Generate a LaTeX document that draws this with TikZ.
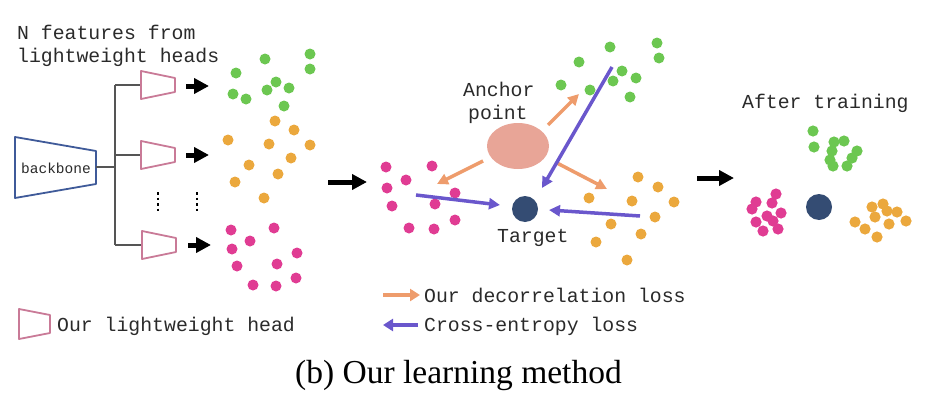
\documentclass[tikz,border=0pt]{standalone}
\usepackage{fontspec}
\setmainfont{Liberation Serif}
\setmonofont{Liberation Mono}
\usetikzlibrary{arrows.meta,shapes.geometric}
\definecolor{bbblue}{HTML}{3F5A99}
\definecolor{headpink}{HTML}{C97A97}
\definecolor{cgreen}{HTML}{6CC751}
\definecolor{corange}{HTML}{EBA83D}
\definecolor{cmag}{HTML}{E03C93}
\definecolor{anchorc}{HTML}{E8A597}
\definecolor{targetc}{HTML}{344C73}
\definecolor{decor}{HTML}{EE9C6C}
\definecolor{cel}{HTML}{6A57CC}
\definecolor{treec}{HTML}{555555}
\definecolor{textc}{HTML}{2A2A2A}
\begin{document}
\begin{tikzpicture}[x=1pt,y=-1pt,
  mono/.style={font=\fontsize{19.8}{23}\selectfont\ttfamily, text=textc, inner sep=0pt, anchor=base west},
  blackarrow/.style={line width=5pt, -{Triangle[length=15pt,width=15pt]}},
  decorarrow/.style={decor, line width=3.5pt, -{Triangle[length=11pt,width=11pt]}},
  cearrow/.style={cel, line width=3.5pt, -{Triangle[length=11pt,width=11pt]}},
  treeline/.style={treec, line width=1.6pt},
  headshape/.style={headpink, line width=1.8pt, line join=round},
  target/.style={circle, fill=targetc, inner sep=0pt, minimum size=26pt},
  pics/head/.style={code={\draw[headshape] (0,-14) -- (34,-7) -- (34,7) -- (0,14) -- cycle;}}
]
\useasboundingbox (0,0) rectangle (940,407);

% backbone
\draw[bbblue, line width=1.8pt, line join=round] (15,137) -- (96,151) -- (96,184) -- (15,198) -- cycle;
\node[font=\fontsize{14.5}{16}\selectfont\ttfamily, text=textc, inner sep=0pt, anchor=base] (bbtext) at (56,173) {backbone};
\coordinate (bbout) at (96,167);
\coordinate (split) at (115,167);
\coordinate (h1) at (141,85);
\coordinate (h2) at (141,155);
\coordinate (h3) at (142,245);
\draw[treeline] (bbout) -- (split);
\draw[treeline] (h1 -| split) -- (h3 -| split);
\draw[treeline] (h1 -| split) -- (h1);
\draw[treeline] (h2 -| split) -- (h2);
\draw[treeline] (h3 -| split) -- (h3);
\pic at (h1) {head};
\pic at (h2) {head};
\pic at (h3) {head};

% vertical dots
\draw[line width=2.8pt, dash pattern=on 2.8pt off 2.7pt] (158,192) -- (158,212);
\draw[line width=2.8pt, dash pattern=on 2.8pt off 2.7pt] (197,192) -- (197,212);

% black arrows
\coordinate (a1s) at (186,86); \coordinate (a1e) at (209,86);
\coordinate (a2s) at (186,155); \coordinate (a2e) at (209,155);
\coordinate (a3s) at (188,245); \coordinate (a3e) at (211,245);
\coordinate (a4s) at (328,182); \coordinate (a4e) at (367,182);
\coordinate (a5s) at (697,178); \coordinate (a5e) at (734,178);
\draw[blackarrow] (a1s) -- (a1e);
\draw[blackarrow] (a2s) -- (a2e);
\draw[blackarrow] (a3s) -- (a3e);
\draw[blackarrow] (a4s) -- (a4e);
\draw[blackarrow] (a5s) -- (a5e);

% dots, first stage
\foreach \x/\y in {236/73,265/59,310/54,310/69,233/94,246/99,267/90,276/82,289/88,284/106}
  \fill[cgreen] (\x,\y) circle (5.5pt);
\foreach \x/\y in {275/121,294/130,228/140,269/144,310/145,291/158,249/165,278/174,235/182,264/198}
  \fill[corange] (\x,\y) circle (5.5pt);
\foreach \x/\y in {231/230,274/228,250/241,232/249,297/253,237/266,277/264,296/278,253/285,276/286}
  \fill[cmag] (\x,\y) circle (5.5pt);

% dots, second stage
\foreach \x/\y in {610/47,657/43,659/58,579/62,622/71,636/78,613/81,561/85,590/90,630/97}
  \fill[cgreen] (\x,\y) circle (5.5pt);
\foreach \x/\y in {638/177,658/187,589/198,632/201,674/202,655/217,611/224,641/234,596/242,627/260}
  \fill[corange] (\x,\y) circle (5.5pt);
\foreach \x/\y in {386/167,432/166,406/180,387/188,455/193,435/204,392/206,455/220,409/228,434/229}
  \fill[cmag] (\x,\y) circle (5.5pt);

% anchor and target
\node[ellipse, fill=anchorc, inner sep=0pt, minimum width=62pt, minimum height=46pt] (anchorpt) at (518,146) {};
\node[target] (target1) at (525,209) {};
\node[mono] (anc1) at (463,96) {Anchor};
\node[mono] (anc2) at (468,119) {point};
\node[mono] (targettext) at (497,242) {Target};

% loss arrows
\coordinate (o1s) at (548,125); \coordinate (o1e) at (579,94);
\coordinate (o2s) at (483,161); \coordinate (o2e) at (437,184);
\coordinate (o3s) at (557,163); \coordinate (o3e) at (607,189);
\draw[decorarrow] (o1s) -- (o1e);
\draw[decorarrow] (o2s) -- (o2e);
\draw[decorarrow] (o3s) -- (o3e);
\coordinate (p1s) at (612,67); \coordinate (p1e) at (542,188);
\coordinate (p2s) at (416,195); \coordinate (p2e) at (500,205);
\coordinate (p3s) at (640,216); \coordinate (p3e) at (549,210);
\draw[cearrow] (p1s) -- (p1e);
\draw[cearrow] (p2s) -- (p2e);
\draw[cearrow] (p3s) -- (p3e);

% after training
\node[mono] (aftertext) at (742,108) {After training};
\node[target] (target2) at (819,207) {};
\foreach \x/\y in {813/131,814/147,834/142,844/141,832/151,857/151,852/158,830/160,833/166,847/166}
  \fill[cgreen] (\x,\y) circle (5.6pt);
\foreach \x/\y in {776/194,756/202,772/203,752/209,781/213,767/216,756/222,773/221,763/231,778/229}
  \fill[cmag] (\x,\y) circle (5.6pt);
\foreach \x/\y in {872/207,883/204,887/211,897/212,875/217,906/221,889/224,855/222,865/229,877/237}
  \fill[corange] (\x,\y) circle (5.6pt);

% titles
\node[mono] (title1) at (17,39) {N features from};
\node[mono] (title2) at (17,62) {lightweight heads};

% legend
\coordinate (lh) at (19,324);
\draw[headshape] (19,309) -- (50,315) -- (50,333) -- (19,339) -- cycle;
\node[mono] (lhtext) at (57,331) {Our lightweight head};
\coordinate (l1s) at (383,295); \coordinate (l1e) at (420,295);
\coordinate (l2s) at (418,325); \coordinate (l2e) at (383,325);
\draw[decor, line width=4.5pt, -{Triangle[length=10pt,width=12pt]}] (l1s) -- (l1e);
\draw[cel, line width=4.5pt, -{Triangle[length=10pt,width=12pt]}] (l2s) -- (l2e);
\node[mono] (l1text) at (424,302) {Our decorrelation loss};
\node[mono] (l2text) at (424,331) {Cross-entropy loss};

% caption
\node[font=\fontsize{33.5}{38}\selectfont, inner sep=0pt, anchor=base west] (caption) at (295,383) {(b) Our learning method};
\end{tikzpicture}
\end{document}
